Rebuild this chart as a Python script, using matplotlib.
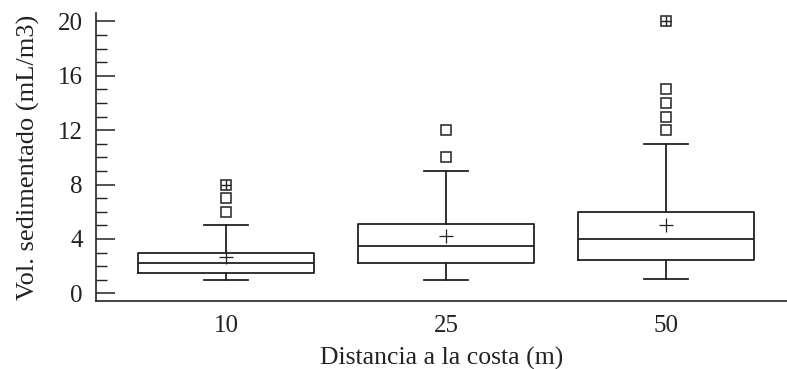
import numpy as np
import matplotlib as mpl
mpl.use("Agg")
from matplotlib import pyplot as plt
from matplotlib.ticker import MultipleLocator

plt.rcParams['font.family'] = ['Liberation Serif', 'DejaVu Serif']

# data
distancias = ["10", "25", "50"]
q1 = [1.5, 2.2, 2.45]
mediana = [2.2, 3.5, 4.0]
q3 = [2.95, 5.1, 6.0]
bigote_inf = [1.0, 1.0, 1.05]
bigote_sup = [5.0, 9.0, 11.0]
media = [2.7, 4.25, 5.0]
atipicos = [[6, 7, 8], [10, 12], [12, 13, 14, 15, 20]]
extremos = [[8], [], [20]]

col = "#222222"
pos = [1, 2, 3]

stats = []
for i in range(len(distancias)):
    stats.append(dict(label=distancias[i], q1=q1[i], med=mediana[i], q3=q3[i],
                      whislo=bigote_inf[i], whishi=bigote_sup[i], mean=media[i],
                      fliers=atipicos[i]))

fig = plt.figure(figsize=(7.87, 3.69), dpi=100)
ax = fig.add_axes([0.1220, 0.1843, 0.8780, 0.7797])

lw = 1.3
ax.bxp(stats, positions=pos, widths=0.8, capwidths=0.2, showmeans=True,
       boxprops=dict(color=col, lw=lw), medianprops=dict(color=col, lw=lw),
       whiskerprops=dict(color=col, lw=lw), capprops=dict(color=col, lw=lw),
       meanprops=dict(marker="+", markeredgecolor=col, markersize=10, mew=0.9),
       flierprops=dict(marker="s", markerfacecolor="white", markeredgecolor=col,
                       markersize=7.5, mew=1.1))

# extreme values: square with a cross inside
for p, ext in zip(pos, extremos):
    if ext:
        ax.plot([p] * len(ext), ext, ls="none", marker="+", color=col,
                markersize=7.5, mew=1.0, zorder=5)

ax.set_xlim(0.409, 3.55)
ax.set_ylim(-0.56, 20.6)
ax.yaxis.set_major_locator(MultipleLocator(4))
ax.yaxis.set_minor_locator(MultipleLocator(1))
ax.tick_params(axis="y", which="major", direction="in", length=14, width=1.1,
               color=col, labelsize=18, labelcolor=col, pad=9.5)
ax.tick_params(axis="y", which="minor", direction="in", length=8, width=1.0, color=col)
ax.tick_params(axis="x", length=0, labelsize=18, labelcolor=col, pad=10)

for s in ["top", "right"]:
    ax.spines[s].set_visible(False)
for s in ["left", "bottom"]:
    ax.spines[s].set_color(col)
    ax.spines[s].set_linewidth(1.2)

ax.set_xlabel("Distancia a la costa (m)", fontsize=18.5, color=col, labelpad=7)
ax.set_ylabel("Vol. sedimentado (mL/m3)", fontsize=19, color=col, labelpad=13)

fig.savefig("out.png", dpi=100)
